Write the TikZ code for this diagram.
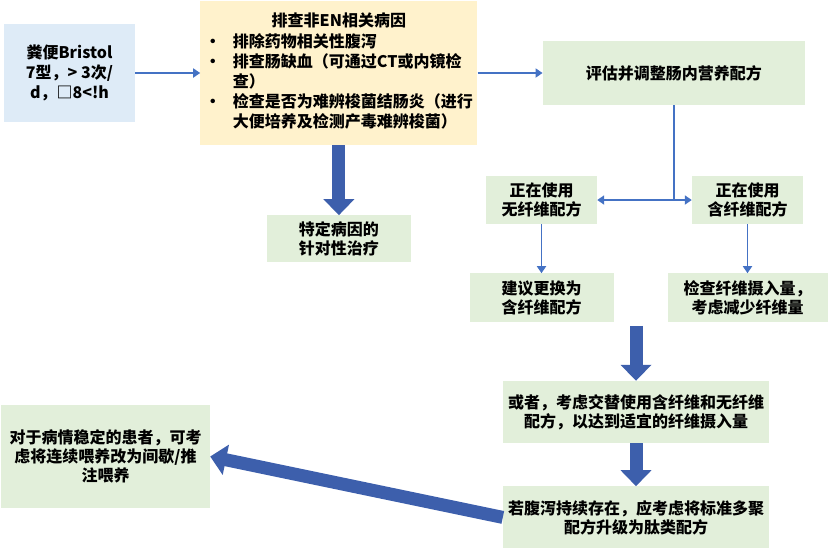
\documentclass[tikz,border=0pt]{standalone}
\usepackage{fontspec}
\setmainfont{Noto Sans CJK SC}
\usetikzlibrary{arrows.meta,positioning,calc}
\definecolor{boxblue}{HTML}{DEEBF7}
\definecolor{boxyellow}{HTML}{FFF2CC}
\definecolor{boxgreen}{HTML}{E2EFDA}
\definecolor{linkblue}{HTML}{4472C4}
\definecolor{bigblue}{HTML}{3D5FAC}
\newcommand{\flowfont}{\fontsize{16pt}{19pt}\selectfont\bfseries}
\tikzset{
  flowinput/.style={rectangle, fill=boxblue, align=center, inner sep=2pt, font=\flowfont, minimum width=131pt, minimum height=98pt},
  flowcause/.style={rectangle, fill=boxyellow, inner sep=2pt, font=\flowfont, minimum width=277pt, minimum height=144pt},
  flowstep/.style={rectangle, fill=boxgreen, align=center, inner sep=2pt, font=\flowfont},
  flowline/.style={line width=1.8pt, draw=linkblue},
  flowarrow/.style={-{Triangle[length=7pt,width=9pt]}, line width=1.8pt, draw=linkblue},
  flowbig/.style={-{Triangle[length=16pt,width=30pt]}, line width=13pt, draw=bigblue}
}

\begin{document}
\begin{tikzpicture}[x=1pt,y=-1pt]
\useasboundingbox (0,0) rectangle (830,550);
\node[flowinput] (stool) at (69.5,73) {粪便Bristol\\[1pt]7型，> 3次/\\[1pt]d，□8<!h};
\node[flowcause, right=65pt of stool] (cause) {\renewcommand{\arraystretch}{1.04}\begin{tabular}{@{}l@{\hspace{12pt}}l@{}}
\multicolumn{2}{c}{排查非EN相关病因}\\[1pt]
•&排除药物相关性腹泻\\
•&排查肠缺血（可通过CT或内镜检\\
&查）\\
•&检查是否为难辨梭菌结肠炎（进行\\
&大便培养及检测产毒难辨梭菌）
\end{tabular}};
\node[flowstep, minimum width=262pt, minimum height=64pt, right=65pt of cause] (adjust) {评估并调整肠内营养配方};
\node[flowstep, minimum width=144pt, minimum height=47pt, below=70pt of cause] (specific) {特定病因的\\针对性治疗};
\node[flowstep, minimum width=111pt, minimum height=48pt] (nofibre) at (541.5,200) {正在使用\\无纤维配方};
\node[flowstep, minimum width=111pt, minimum height=48pt] (fibre) at (747.5,200) {正在使用\\含纤维配方};
\node[flowstep, minimum width=144pt, minimum height=49pt, below=49pt of nofibre] (switch) {建议更换为\\含纤维配方};
\node[flowstep, minimum width=160pt, minimum height=49pt, below=49pt of fibre] (reduce) {检查纤维摄入量，\\考虑减少纤维量};
\node[flowstep, minimum width=266pt, minimum height=62pt] (alternate) at (636,412) {或者，考虑交替使用含纤维和无纤维\\配方，以达到适宜的纤维摄入量};
\node[flowstep, minimum width=266pt, minimum height=62pt, below=43pt of alternate] (peptide) {若腹泻持续存在，应考虑将标准多聚\\配方升级为肽类配方};
\node[flowstep, minimum width=209pt, minimum height=103pt] (bolus) at (105.5,456.5) {对于病情稳定的患者，可考\\虑将连续喂养改为间歇/推\\注喂养};
\coordinate (split) at (adjust.south |- nofibre.east);
\coordinate[above=55pt of alternate] (gap);
\draw[flowarrow] (stool) -- (cause);
\draw[flowarrow] (cause) -- (adjust);
\draw[flowline] (adjust.south) -- (split);
\draw[flowarrow] (split) -- (nofibre);
\draw[flowarrow] (split) -- (fibre);
\draw[flowarrow] (nofibre) -- (switch);
\draw[flowarrow] (fibre) -- (reduce);
\draw[flowbig] (cause) -- (specific);
\draw[flowbig] (gap) -- (alternate);
\draw[flowbig] (alternate) -- (peptide);
\draw[flowbig] (peptide.west) -- (bolus.east);
\end{tikzpicture}
\end{document}
